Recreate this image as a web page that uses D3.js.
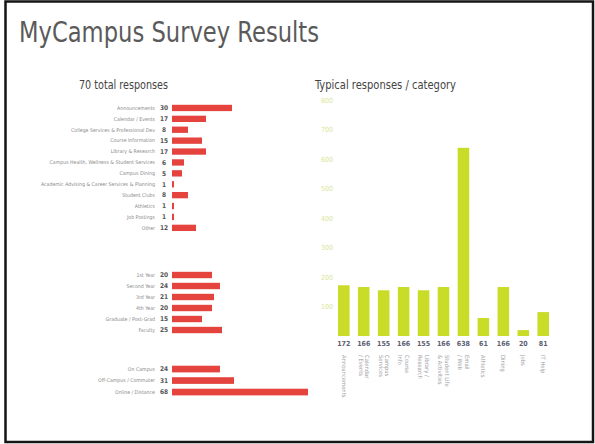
<!DOCTYPE html>
<html>
<head>
<meta charset="utf-8">
<script src="https://cdn.jsdelivr.net/npm/d3@7"></script>
<style>
  html, body { margin: 0; padding: 0; background: #fff; }
  svg { display: block; }
  text { font-family: "Liberation Sans Narrow", "DejaVu Sans Condensed", "Liberation Sans", Arial, sans-serif; }
</style>
</head>
<body>
<svg id="chart" width="595" height="444"></svg>
<script>
// ---------- DATA ----------
const slideTitle = "MyCampus Survey Results";
const leftTitle = "70 total responses";
const rightTitle = "Typical responses / category";

const group1Labels = ["Announcements", "Calendar / Events", "College Services & Professional Dev", "Course Information", "Library & Research", "Campus Health, Wellness & Student Services", "Campus Dining", "Academic Advising & Career Services & Planning", "Student Clubs", "Athletics", "Job Postings", "Other"];
const group1Values = [30, 17, 8, 15, 17, 6, 5, 1, 8, 1, 1, 12];

const group2Labels = ["1st Year", "Second Year", "3rd Year", "4th Year", "Graduate / Post-Grad", "Faculty"];
const group2Values = [20, 24, 21, 20, 15, 25];

const group3Labels = ["On Campus", "Off-Campus / Commuter", "Online / Distance"];
const group3Values = [24, 31, 68];

const categories = ["Announcements", "Calendar / Events", "Campus Services", "Course Info", "Library / Research", "Student Life & Activities", "Email / Web", "Athletics", "Dining", "Jobs", "IT Help"];
const categoryValues = [172, 166, 155, 166, 155, 166, 638, 61, 166, 20, 81];
const yTicks = [100, 200, 300, 400, 500, 600, 700, 800];

// ---------- DRAW ----------
const svg = d3.select("#chart");

// slide frame
svg.append("rect")
  .attr("x", 5.5).attr("y", 1.5)
  .attr("width", 587.5).attr("height", 440.5)
  .attr("fill", "#fff").attr("stroke", "#151515").attr("stroke-width", 2.5);

// slide title
svg.append("text")
  .attr("x", 19).attr("y", 42)
  .attr("font-size", 28)
  .attr("fill", "#5a5a5a")
  .attr("textLength", 300).attr("lengthAdjust", "spacingAndGlyphs")
  .text(slideTitle);

// ---- left chart ----
svg.append("text")
  .attr("x", 79).attr("y", 89)
  .attr("font-size", 11.5).attr("fill", "#444")
  .attr("textLength", 89).attr("lengthAdjust", "spacingAndGlyphs")
  .text(leftTitle);

const x = d3.scaleLinear().domain([0, 70]).range([172, 312]);
const red = "#e5433e";

const groups = [
  { labels: group1Labels, values: group1Values, range: [102.5, 233.3] },
  { labels: group2Labels, values: group2Values, range: [269.5, 335.5] },
  { labels: group3Labels, values: group3Values, range: [363.3, 397.8] }
];

groups.forEach(g => {
  const y = d3.scaleBand().domain(g.labels).range(g.range).paddingInner(0.42).paddingOuter(0.21);
  const gg = svg.append("g");
  const rows = gg.selectAll("g.row").data(g.labels.map((l, i) => ({ label: l, value: g.values[i] })))
    .join("g").attr("class", "row");
  rows.append("rect")
    .attr("x", x(0))
    .attr("y", d => y(d.label))
    .attr("width", d => x(d.value) - x(0))
    .attr("height", y.bandwidth())
    .attr("fill", red);
  rows.append("text")
    .attr("x", 164).attr("y", d => y(d.label) + y.bandwidth() / 2)
    .attr("dy", "0.35em").attr("text-anchor", "middle")
    .attr("font-size", 6.5).attr("font-weight", "bold").attr("fill", "#555")
    .text(d => d.value);
  rows.append("text")
    .attr("x", 155).attr("y", d => y(d.label) + y.bandwidth() / 2)
    .attr("dy", "0.35em").attr("text-anchor", "end")
    .attr("font-size", 5.2).attr("fill", "#8a8a8a")
    .text(d => d.label);
});

// ---- right chart ----
svg.append("text")
  .attr("x", 315).attr("y", 89)
  .attr("font-size", 11.5).attr("fill", "#444")
  .attr("textLength", 141).attr("lengthAdjust", "spacingAndGlyphs")
  .text(rightTitle);

const yR = d3.scaleLinear().domain([0, 800]).range([336, 100]);
const xR = d3.scaleBand().domain(categories).range([336, 551]).paddingInner(0.42).paddingOuter(0.1);
const green = "#c9dc28";

const yAxis = d3.axisLeft(yR).tickValues(yTicks).tickSize(0).tickPadding(3);
const ya = svg.append("g").attr("transform", "translate(336,0)").call(yAxis);
ya.select(".domain").remove();
ya.selectAll("text").attr("font-size", 7).attr("fill", "#d9e59a")
  .style("font-family", "\"Liberation Sans Narrow\", \"DejaVu Sans Condensed\", sans-serif");

svg.append("g").selectAll("rect").data(categories).join("rect")
  .attr("x", d => xR(d))
  .attr("y", (d, i) => yR(categoryValues[i]))
  .attr("width", xR.bandwidth())
  .attr("height", (d, i) => yR(0) - yR(categoryValues[i]))
  .attr("fill", green);

svg.append("g").selectAll("text").data(categories).join("text")
  .attr("x", d => xR(d) + xR.bandwidth() / 2)
  .attr("y", 344).attr("dy", "0.35em")
  .attr("text-anchor", "middle")
  .attr("font-size", 7).attr("font-weight", "bold").attr("fill", "#5c6070")
  .text((d, i) => categoryValues[i]);

// rotated category labels, split into up to two lines
function splitLabel(s) {
  const words = s.split(" ");
  if (s.length <= 10 || words.length < 2) return [s];
  let best = 1, bestDiff = Infinity;
  for (let k = 1; k < words.length; k++) {
    const a = words.slice(0, k).join(" ").length, b = words.slice(k).join(" ").length;
    if (Math.abs(a - b) < bestDiff) { bestDiff = Math.abs(a - b); best = k; }
  }
  return [words.slice(0, best).join(" "), words.slice(best).join(" ")];
}

const catText = svg.append("g").selectAll("text").data(categories).join("text")
  .attr("transform", d => `translate(${xR(d) + xR.bandwidth() / 2},355) rotate(90)`)
  .attr("font-size", 5.8).attr("fill", "#a0a0a8");
catText.each(function(d) {
  const lines = splitLabel(d);
  const t = d3.select(this);
  lines.forEach((ln, i) => {
    t.append("tspan")
      .attr("x", 0)
      .attr("y", (i - (lines.length - 1) / 2) * 6.2)
      .attr("dy", "0.35em")
      .text(ln);
  });
});
</script>
</body>
</html>
